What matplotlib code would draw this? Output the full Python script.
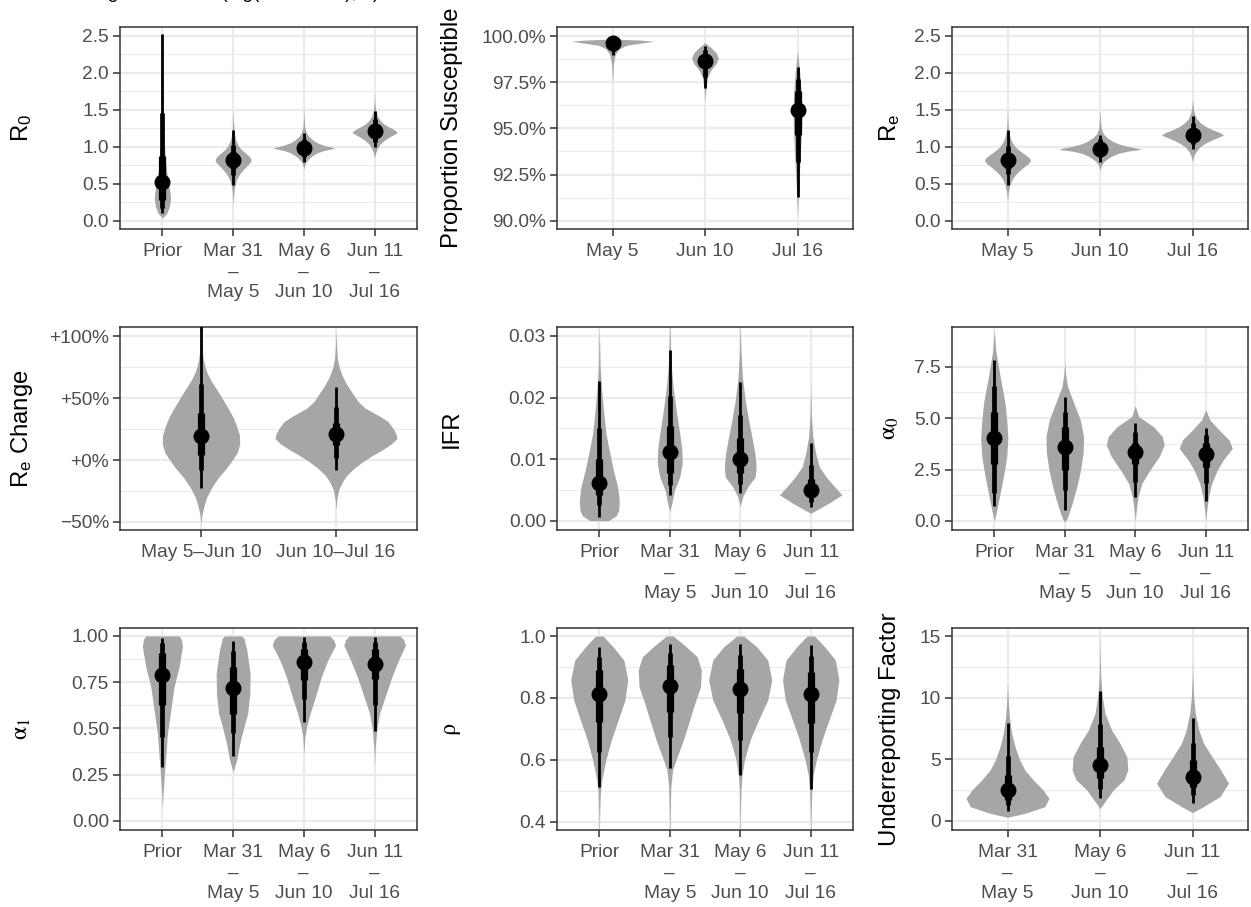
import numpy as np
import matplotlib.pyplot as plt

plt.rcParams['font.family'] = ['Liberation Sans', 'DejaVu Sans']
plt.rcParams['mathtext.fontset'] = 'custom'
plt.rcParams['mathtext.rm'] = 'Liberation Sans'
plt.rcParams['mathtext.it'] = 'Liberation Sans:italic'

W, H = 1251, 907
VIOLIN = '#A6A6A6'
GRID = '#EBEBEB'
FRAME = '#333333'
TICKTXT = '#4D4D4D'

# etichette delle finestre temporali
periods4 = ['Prior', 'Mar 31\n–\nMay 5', 'May 6\n–\nJun 10', 'Jun 11\n–\nJul 16']
periods3 = ['Mar 31\n–\nMay 5', 'May 6\n–\nJun 10', 'Jun 11\n–\nJul 16']
dates3 = ['May 5', 'Jun 10', 'Jul 16']
changes = ['May 5–Jun 10', 'Jun 10–Jul 16']

# ---- R0 ----
r0_med = [0.53, 0.82, 0.98, 1.21]
r0_i50 = [(0.28, 0.88), (0.72, 0.93), (0.92, 1.04), (1.14, 1.28)]
r0_i80 = [(0.17, 1.46), (0.62, 1.02), (0.86, 1.10), (1.06, 1.37)]
r0_i95 = [(0.10, 2.53), (0.48, 1.23), (0.80, 1.19), (1.00, 1.48)]
r0_violin = [
    [(0.04, 0), (0.1, 0.06), (0.2, 0.10), (0.3, 0.115), (0.4, 0.105), (0.5, 0.085),
     (0.7, 0.055), (1.0, 0.03), (1.5, 0.012), (2.0, 0.005), (2.6, 0)],
    [(0.22, 0), (0.35, 0.008), (0.45, 0.02), (0.55, 0.045), (0.63, 0.09), (0.7, 0.15),
     (0.76, 0.21), (0.8, 0.25), (0.83, 0.255), (0.87, 0.23), (0.92, 0.17), (0.97, 0.11),
     (1.03, 0.065), (1.1, 0.035), (1.2, 0.015), (1.35, 0.005), (1.5, 0)],
    [(0.70, 0), (0.76, 0.015), (0.80, 0.035), (0.84, 0.07), (0.88, 0.12), (0.92, 0.19),
     (0.95, 0.28), (0.975, 0.40), (0.985, 0.44), (1.0, 0.38), (1.02, 0.29), (1.05, 0.2),
     (1.09, 0.13), (1.14, 0.07), (1.19, 0.035), (1.27, 0.012), (1.4, 0.004), (1.55, 0)],
    [(0.85, 0), (0.92, 0.015), (0.98, 0.04), (1.04, 0.08), (1.09, 0.14), (1.14, 0.22),
     (1.18, 0.3), (1.2, 0.32), (1.23, 0.28), (1.27, 0.2), (1.31, 0.13), (1.36, 0.075),
     (1.42, 0.04), (1.5, 0.015), (1.6, 0.005), (1.75, 0)],
]

# ---- proporzione suscettibile (%) ----
ps_med = [99.62, 98.65, 95.98]
ps_i50 = [(99.45, 99.75), (98.3, 99.0), (94.65, 97.05)]
ps_i80 = [(99.2, 99.82), (97.8, 99.25), (93.2, 97.65)]
ps_i95 = [(98.95, 99.9), (97.2, 99.45), (91.27, 98.33)]
ps_violin = [
    [(97.5, 0), (98.5, 0.01), (99.0, 0.03), (99.3, 0.07), (99.5, 0.15), (99.65, 0.35),
     (99.72, 0.446), (99.78, 0.3), (99.82, 0.1), (99.86, 0)],
    [(96.5, 0), (97.2, 0.01), (97.8, 0.03), (98.2, 0.07), (98.5, 0.12), (98.8, 0.145),
     (99.1, 0.12), (99.35, 0.07), (99.55, 0.02), (99.65, 0)],
    [(90.3, 0), (91.5, 0.01), (93.0, 0.025), (94.5, 0.04), (95.8, 0.05), (97.0, 0.04),
     (98.0, 0.025), (98.7, 0.01), (99.2, 0)],
]

# ---- Re ----
re_med = [0.82, 0.97, 1.16]
re_i50 = [(0.72, 0.92), (0.92, 1.03), (1.10, 1.24)]
re_i80 = [(0.63, 1.01), (0.86, 1.10), (1.04, 1.32)]
re_i95 = [(0.48, 1.23), (0.80, 1.16), (0.97, 1.42)]
re_violin = [
    [(0.25, 0), (0.38, 0.008), (0.48, 0.025), (0.56, 0.05), (0.63, 0.09), (0.7, 0.15),
     (0.76, 0.21), (0.8, 0.245), (0.83, 0.247), (0.87, 0.22), (0.92, 0.16), (0.98, 0.1),
     (1.05, 0.055), (1.12, 0.03), (1.22, 0.012), (1.35, 0.004), (1.5, 0)],
    [(0.68, 0), (0.75, 0.015), (0.79, 0.035), (0.83, 0.07), (0.87, 0.12), (0.91, 0.19),
     (0.94, 0.29), (0.96, 0.41), (0.97, 0.448), (0.985, 0.39), (1.01, 0.29), (1.04, 0.2),
     (1.08, 0.13), (1.13, 0.07), (1.18, 0.035), (1.26, 0.012), (1.4, 0.004), (1.5, 0)],
    [(0.8, 0), (0.88, 0.015), (0.94, 0.04), (1.0, 0.08), (1.05, 0.14), (1.1, 0.22),
     (1.14, 0.3), (1.16, 0.335), (1.19, 0.3), (1.23, 0.22), (1.27, 0.15), (1.32, 0.09),
     (1.38, 0.045), (1.45, 0.02), (1.55, 0.006), (1.65, 0)],
]

# ---- variazione di Re (%) ----
rc_med = [19.4, 21.0]
rc_i50 = [(4.0, 37.7), (12.0, 30.0)]
rc_i80 = [(-8.0, 61.4), (1.3, 43.0)]
rc_i95 = [(-22.9, 110.0), (-8.0, 58.7)]
rc_violin = [
    [(-52, 0), (-45, 0.006), (-38, 0.02), (-30, 0.042), (-22, 0.08), (-14, 0.13),
     (-7, 0.185), (0, 0.232), (6, 0.268), (13, 0.287), (20, 0.285), (27, 0.265),
     (34, 0.24), (40, 0.21), (46, 0.178), (52, 0.145), (58, 0.11), (64, 0.075),
     (70, 0.047), (76, 0.028), (83, 0.015), (92, 0.006), (108, 0)],
    [(-40, 0), (-32, 0.006), (-24, 0.02), (-18, 0.045), (-13, 0.075), (-7, 0.13),
     (-2, 0.19), (3, 0.26), (8, 0.34), (13, 0.41), (17.5, 0.452), (21, 0.445),
     (26, 0.42), (31, 0.385), (35, 0.33), (38, 0.28), (42, 0.215), (47, 0.165),
     (54, 0.122), (60, 0.085), (67, 0.05), (74, 0.026), (82, 0.01), (92, 0.004), (105, 0)],
]

# ---- IFR ----
ifr_med = [0.0061, 0.0111, 0.0100, 0.0050]
ifr_i50 = [(0.0042, 0.0101), (0.0077, 0.0153), (0.0077, 0.0134), (0.0038, 0.0068)]
ifr_i80 = [(0.0025, 0.0150), (0.0058, 0.0203), (0.0060, 0.0172), (0.0031, 0.0091)]
ifr_i95 = [(0.0006, 0.0227), (0.0042, 0.0278), (0.0045, 0.0226), (0.0023, 0.0127)]
ifr_violin = [
    [(0.0, 0.13), (0.0008, 0.24), (0.0017, 0.276), (0.0034, 0.283), (0.0055, 0.26),
     (0.0082, 0.2), (0.0115, 0.14), (0.0142, 0.094), (0.018, 0.059), (0.0218, 0.03),
     (0.025, 0.012), (0.03, 0.003), (0.0315, 0)],
    [(0.0012, 0), (0.0017, 0.005), (0.0028, 0.03), (0.005, 0.068), (0.0071, 0.141),
     (0.0093, 0.177), (0.0115, 0.172), (0.0142, 0.141), (0.018, 0.09), (0.0218, 0.047),
     (0.026, 0.015), (0.0315, 0.003)],
    [(0.0023, 0), (0.0039, 0.035), (0.0055, 0.106), (0.0071, 0.212), (0.0088, 0.226),
     (0.011, 0.207), (0.0136, 0.165), (0.0164, 0.118), (0.0196, 0.07), (0.0234, 0.03),
     (0.0277, 0.01), (0.0315, 0.002)],
    [(0.0012, 0), (0.0017, 0.08), (0.0028, 0.25), (0.0042, 0.443), (0.0055, 0.34),
     (0.0071, 0.22), (0.0088, 0.12), (0.011, 0.07), (0.0136, 0.03), (0.0169, 0.01),
     (0.021, 0.002), (0.023, 0)],
]

# ---- alpha0 ----
a0_med = [4.05, 3.61, 3.37, 3.26]
a0_i50 = [(2.77, 5.31), (2.48, 4.58), (2.77, 3.81), (2.64, 3.78)]
a0_i80 = [(1.35, 6.56), (1.51, 5.31), (1.91, 4.34), (1.86, 4.18)]
a0_i95 = [(0.73, 7.83), (0.53, 6.01), (1.15, 4.75), (0.99, 4.51)]
a0_violin = [
    [(0.0, 0), (0.53, 0.035), (1.18, 0.073), (2.15, 0.13), (3.13, 0.177), (4.02, 0.193),
     (4.75, 0.18), (5.72, 0.153), (7.02, 0.083), (8.31, 0.02), (9.3, 0)],
    [(-0.05, 0), (0.1, 0.03), (0.37, 0.06), (0.86, 0.106), (1.67, 0.172), (2.48, 0.224),
     (3.29, 0.26), (4.1, 0.267), (4.91, 0.22), (5.72, 0.13), (6.53, 0.04), (7.2, 0.01),
     (7.8, 0)],
    [(0.0, 0), (0.53, 0.015), (1.18, 0.04), (1.83, 0.094), (2.48, 0.21), (3.13, 0.34),
     (3.69, 0.41), (4.1, 0.385), (4.58, 0.26), (5.07, 0.05), (5.6, 0)],
    [(0.0, 0), (0.53, 0.015), (1.18, 0.04), (1.83, 0.085), (2.48, 0.165), (2.97, 0.25),
     (3.53, 0.377), (3.94, 0.33), (4.42, 0.19), (4.91, 0.06), (5.4, 0)],
]

# ---- alpha1 ----
a1_med = [0.789, 0.717, 0.857, 0.851]
a1_i50 = [(0.627, 0.906), (0.58, 0.834), (0.762, 0.93), (0.768, 0.93)]
a1_i80 = [(0.456, 0.96), (0.474, 0.92), (0.657, 0.97), (0.627, 0.97)]
a1_i95 = [(0.294, 0.99), (0.351, 0.975), (0.537, 0.996), (0.488, 0.996)]
a1_violin = [
    [(0.07, 0), (0.15, 0.01), (0.24, 0.025), (0.348, 0.047), (0.474, 0.071), (0.6, 0.118),
     (0.726, 0.165), (0.834, 0.236), (0.942, 0.283), (0.98, 0.27), (1.0, 0.236)],
    [(0.265, 0), (0.33, 0.05), (0.42, 0.094), (0.51, 0.153), (0.58, 0.205), (0.689, 0.236),
     (0.798, 0.24), (0.924, 0.193), (0.988, 0.153), (1.0, 0.12)],
    [(0.36, 0), (0.456, 0.015), (0.51, 0.04), (0.58, 0.087), (0.672, 0.165), (0.78, 0.248),
     (0.87, 0.34), (0.95, 0.448), (0.98, 0.42), (1.0, 0.365)],
    [(0.3, 0), (0.4, 0.01), (0.49, 0.03), (0.58, 0.07), (0.672, 0.15), (0.78, 0.245),
     (0.87, 0.34), (0.95, 0.436), (0.98, 0.41), (1.0, 0.36)],
]

# ---- rho ----
rho_med = [0.813, 0.838, 0.828, 0.813]
rho_i50 = [(0.723, 0.89), (0.755, 0.906), (0.75, 0.895), (0.72, 0.885)]
rho_i80 = [(0.626, 0.933), (0.673, 0.944), (0.664, 0.94), (0.624, 0.935)]
rho_i95 = [(0.511, 0.965), (0.572, 0.974), (0.551, 0.975), (0.505, 0.97)]
rho_violin = [
    [(0.3, 0), (0.416, 0.005), (0.492, 0.015), (0.535, 0.035), (0.6, 0.094), (0.664, 0.17),
     (0.729, 0.269), (0.793, 0.363), (0.858, 0.405), (0.922, 0.349), (0.965, 0.196),
     (0.996, 0.07), (1.0, 0.05)],
    [(0.3, 0), (0.416, 0.005), (0.513, 0.015), (0.567, 0.04), (0.61, 0.106), (0.664, 0.193),
     (0.729, 0.283), (0.782, 0.354), (0.836, 0.436), (0.89, 0.448), (0.933, 0.389),
     (0.965, 0.236), (0.996, 0.07), (1.0, 0.05)],
    [(0.3, 0), (0.416, 0.004), (0.5, 0.01), (0.55, 0.025), (0.6, 0.06), (0.664, 0.14),
     (0.729, 0.26), (0.793, 0.39), (0.858, 0.448), (0.922, 0.39), (0.965, 0.236),
     (0.996, 0.07), (1.0, 0.05)],
    [(0.3, 0), (0.416, 0.005), (0.5, 0.015), (0.55, 0.035), (0.6, 0.08), (0.664, 0.16),
     (0.729, 0.26), (0.793, 0.36), (0.858, 0.4), (0.922, 0.35), (0.965, 0.2),
     (0.996, 0.07), (1.0, 0.05)],
]

# ---- fattore di sottostima ----
uf_med = [2.51, 4.54, 3.54]
uf_i50 = [(1.7, 3.73), (3.46, 6.03), (2.73, 4.95)]
uf_i80 = [(1.3, 5.27), (2.57, 7.87), (2.11, 6.3)]
uf_i95 = [(0.84, 7.92), (1.84, 10.57), (1.48, 8.33)]
uf_violin = [
    [(0.3, 0), (0.62, 0.188), (1.16, 0.403), (1.84, 0.448), (2.51, 0.385), (3.33, 0.278),
     (4.14, 0.188), (4.95, 0.131), (6.03, 0.081), (7.11, 0.045), (8.46, 0.02),
     (9.81, 0.008), (11.2, 0)],
    [(1.0, 0), (1.7, 0.065), (2.51, 0.143), (3.33, 0.258), (4.14, 0.301), (5.21, 0.29),
     (6.3, 0.215), (7.38, 0.125), (8.73, 0.054), (10.08, 0.025), (11.7, 0.008),
     (13.87, 0.002), (15.2, 0)],
    [(0.68, 0), (1.16, 0.116), (1.97, 0.296), (3.06, 0.389), (4.14, 0.305), (5.21, 0.211),
     (6.3, 0.12), (7.38, 0.068), (8.73, 0.03), (10.08, 0.012), (11.7, 0.003), (13.1, 0)],
]

fig = plt.figure(figsize=(W / 100, H / 100), dpi=100)

cols = [(120, 417), (557, 853), (952, 1248)]
rows = [(27, 229), (327, 530), (628, 830)]
label_x = [22, 452, 890]


def pannello(r, c, labels, violins, med, i50, i80, i95, ylim, yticks, yticklabels,
             ylabel, math_font=None):
    x0, x1 = cols[c]
    y0, y1 = rows[r]
    ax = fig.add_axes([x0 / W, 1 - y1 / H, (x1 - x0) / W, (y1 - y0) / H])
    pos = np.arange(1, len(labels) + 1)

    for x, prof in zip(pos, violins):
        v = np.array(prof, dtype=float)
        ax.fill_betweenx(v[:, 0], x - v[:, 1], x + v[:, 1], color=VIOLIN, lw=0, zorder=2)

    for ints, lw in [(i95, 2.0), (i80, 3.4), (i50, 5.2)]:
        lo = [a for a, b in ints]
        hi = [b for a, b in ints]
        ax.vlines(pos, lo, hi, color='black', lw=lw, zorder=3, capstyle='butt')
    ax.plot(pos, med, 'o', ms=11.5, color='black', mew=0, zorder=4)

    ax.set_xlim(0.4, len(labels) + 0.6)
    ax.set_ylim(*ylim)
    ax.set_xticks(pos)
    ax.set_xticklabels(labels, linespacing=1.28)
    ax.set_yticks(yticks)
    ax.set_yticklabels(yticklabels)
    minors = [(a + b) / 2 for a, b in zip(yticks[:-1], yticks[1:])]
    ax.set_yticks(minors, minor=True)
    ax.tick_params(which='major', length=5, width=1.1, color=FRAME, labelcolor=TICKTXT,
                   labelsize=13.8, pad=3)
    ax.tick_params(axis='x', which='major', pad=5)
    ax.tick_params(which='minor', length=0)
    ax.grid(which='major', color=GRID, lw=1.6, zorder=0)
    ax.grid(which='minor', axis='y', color=GRID, lw=0.8, zorder=0)
    ax.set_axisbelow(True)
    for s in ax.spines.values():
        s.set_color(FRAME)
        s.set_linewidth(1.1)

    yc = 1 - (y0 + y1) / 2 / H
    kw = {}
    if math_font:
        kw['math_fontfamily'] = math_font
    fig.text(label_x[c] / W, yc, ylabel, rotation=90, ha='center', va='center',
             fontsize=17.2, color='black', **kw)
    return ax


pannello(0, 0, periods4, r0_violin, r0_med, r0_i50, r0_i80, r0_i95, (-0.11, 2.62),
         [0, 0.5, 1.0, 1.5, 2.0, 2.5], ['0.0', '0.5', '1.0', '1.5', '2.0', '2.5'],
         r'$\mathrm{R_0}$')
pannello(0, 1, dates3, ps_violin, ps_med, ps_i50, ps_i80, ps_i95, (89.55, 100.49),
         [90, 92.5, 95, 97.5, 100], ['90.0%', '92.5%', '95.0%', '97.5%', '100.0%'],
         'Proportion Susceptible')
pannello(0, 2, dates3, re_violin, re_med, re_i50, re_i80, re_i95, (-0.11, 2.62),
         [0, 0.5, 1.0, 1.5, 2.0, 2.5], ['0.0', '0.5', '1.0', '1.5', '2.0', '2.5'],
         r'$\mathrm{R_e}$')

pannello(1, 0, changes, rc_violin, rc_med, rc_i50, rc_i80, rc_i95, (-56.5, 107.4),
         [-50, 0, 50, 100], ['\u221250%', '+0%', '+50%', '+100%'],
         r'$\mathrm{R_e}$ Change')
pannello(1, 1, periods4, ifr_violin, ifr_med, ifr_i50, ifr_i80, ifr_i95,
         (-0.00151, 0.03146), [0, 0.01, 0.02, 0.03], ['0.00', '0.01', '0.02', '0.03'],
         'IFR')
pannello(1, 2, periods4, a0_violin, a0_med, a0_i50, a0_i80, a0_i95, (-0.44, 9.43),
         [0, 2.5, 5.0, 7.5], ['0.0', '2.5', '5.0', '7.5'],
         r'$\mathrm{\alpha_0}$', math_font='stix')

pannello(2, 0, periods4, a1_violin, a1_med, a1_i50, a1_i80, a1_i95, (-0.049, 1.043),
         [0, 0.25, 0.5, 0.75, 1.0], ['0.00', '0.25', '0.50', '0.75', '1.00'],
         r'$\mathrm{\alpha_1}$', math_font='stix')
pannello(2, 1, periods4, rho_violin, rho_med, rho_i50, rho_i80, rho_i95, (0.373, 1.026),
         [0.4, 0.6, 0.8, 1.0], ['0.4', '0.6', '0.8', '1.0'],
         r'$\mathrm{\rho}$', math_font='stix')
pannello(2, 2, periods3, uf_violin, uf_med, uf_i50, uf_i80, uf_i95, (-0.73, 15.65),
         [0, 5, 10, 15], ['0', '5', '10', '15'],
         'Underreporting Factor')

# riga di testo in alto, quasi tutta fuori dal bordo della figura
fig.text(40 / W, 1 + 1.5 / H, 'R0 ~ Lognormal with (log(2.25 × 0.4), 1)', fontsize=13.8,
         ha='left', va='baseline')

fig.savefig('out.png', dpi=100)
